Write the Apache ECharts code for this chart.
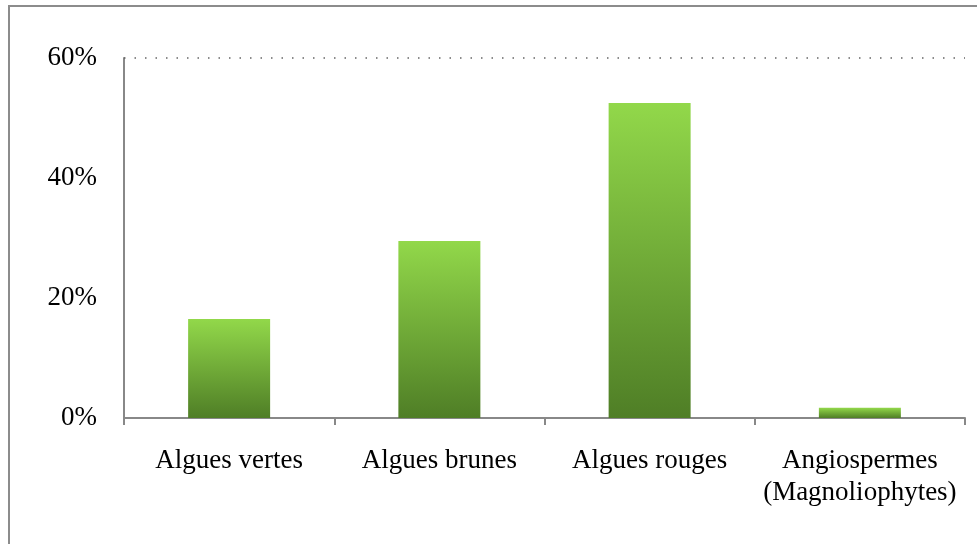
<!DOCTYPE html>
<html>
<head>
<meta charset="utf-8">
<script src="https://cdn.jsdelivr.net/npm/echarts@6/dist/echarts.min.js"></script>
<style>
html,body{margin:0;padding:0;background:#fff;}
#chart{width:977px;height:544px;}
</style>
</head>
<body>
<div id="chart"></div>
<script>
const categories = ['Algues vertes', 'Algues brunes', 'Algues rouges', 'Angiospermes\n(Magnoliophytes)'];
const values = [16.5, 29.5, 52.5, 1.7];
const yTicks = [0, 20, 40, 60];

const chart = echarts.init(document.getElementById('chart'), null, {renderer: 'canvas'});
const font = '"Liberation Serif", "Times New Roman", serif';
chart.setOption({
  animation: false,
  backgroundColor: '#fff',
  grid: {left: 124, right: 12, top: 58, bottom: 126, containLabel: false},
  graphic: [{
    type: 'rect',
    shape: {x: 9, y: 6, width: 1000, height: 600},
    style: {fill: 'none', stroke: '#8c8c8c', lineWidth: 2},
    silent: true, z: -1
  }],
  xAxis: {
    type: 'category',
    data: categories,
    axisLine: {lineStyle: {color: '#888', width: 2}},
    axisTick: {show: true, length: 7, lineStyle: {color: '#888', width: 2}},
    axisLabel: {color: '#000', fontFamily: font, fontSize: 27, margin: 27, lineHeight: 32, interval: 0}
  },
  yAxis: {
    type: 'value',
    min: yTicks[0],
    max: yTicks[yTicks.length - 1],
    interval: 20,
    axisLine: {show: true, lineStyle: {color: '#888', width: 2}},
    axisTick: {show: false},
    splitLine: {show: false},
    axisLabel: {color: '#000', fontFamily: font, fontSize: 27, margin: 27, padding: [4, 0, 0, 0], formatter: v => v + '%'}
  },
  series: [{
    type: 'bar',
    data: values,
    barWidth: '39%',
    itemStyle: {
      color: new echarts.graphic.LinearGradient(0, 0, 0, 1, [
        {offset: 0, color: '#92d84a'},
        {offset: 1, color: '#4f7e26'}
      ])
    },
    markLine: {
      silent: true,
      symbol: 'none',
      label: {show: false},
      lineStyle: {color: '#666', type: [1.5, 9], width: 1.5},
      data: [{yAxis: 60}]
    }
  }]
});
</script>
</body>
</html>
